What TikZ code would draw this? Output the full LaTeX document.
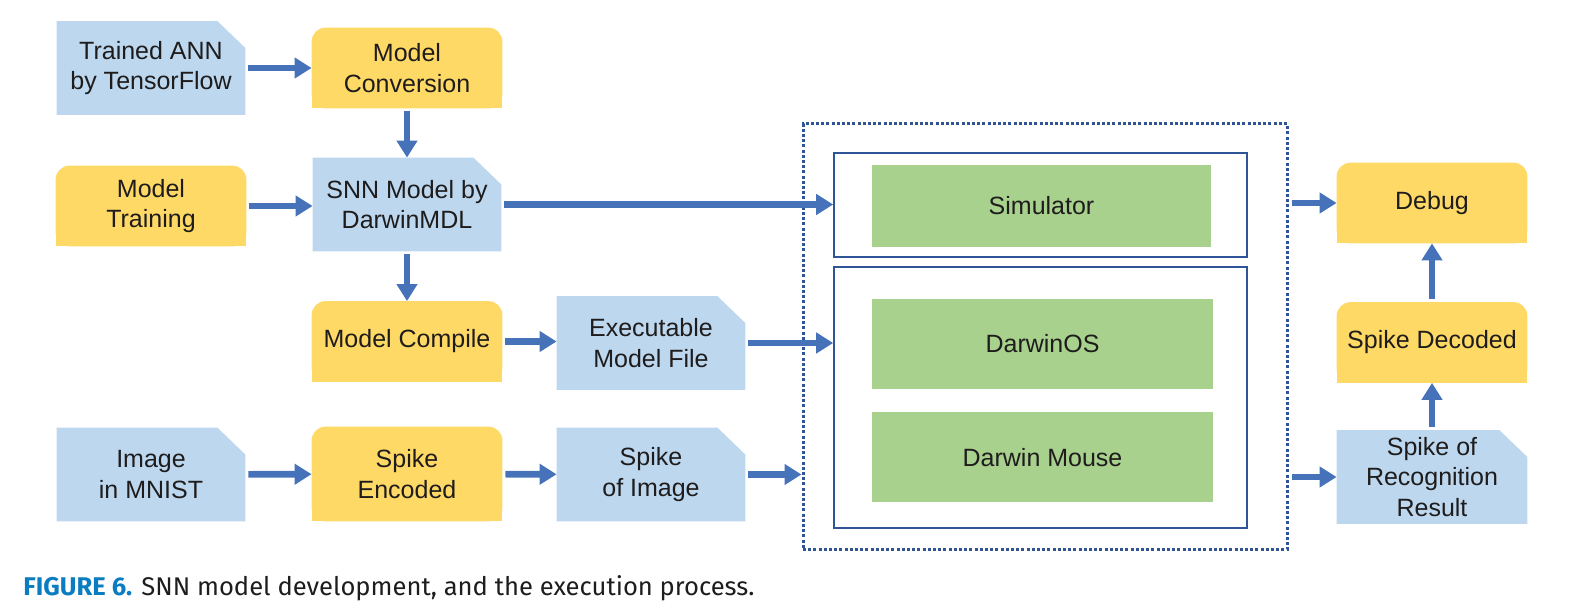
\documentclass[tikz,border=0pt]{standalone}
\usepackage{fontspec}
\setmainfont{Liberation Sans}
\newfontfamily\capfont{Fira Sans}
\usetikzlibrary{arrows.meta,backgrounds}
\definecolor{docblue}{RGB}{189,215,238}
\definecolor{stepyel}{RGB}{255,217,102}
\definecolor{hwgreen}{RGB}{169,209,142}
\definecolor{arrblue}{RGB}{70,114,186}
\definecolor{frameblue}{RGB}{47,85,151}
\definecolor{txt}{RGB}{30,28,28}
\definecolor{capblue}{RGB}{10,125,193}
\tikzset{
box/.style={text=txt,align=center,font=\fontsize{12.5}{15.3}\selectfont,inner sep=0pt},
doc/.style={box,minimum width=94pt,minimum height=46.5pt},
task/.style={box,minimum width=95pt,minimum height=40pt},
hw/.style={box,fill=hwgreen,minimum width=170.5pt,minimum height=45pt},
unit/.style={draw=frameblue,line width=0.8pt,minimum width=206.5pt},
flow/.style={draw=arrblue,line width=3.3pt,-{Triangle[length=8.5pt,width=10pt]},shorten <=1.5pt}
}
\begin{document}
\begin{tikzpicture}[x=0.5pt,y=-0.5pt]
\useasboundingbox (0,0) rectangle (1584,613);
\node[doc]
(ann) at (151,68) {Trained ANN\\by TensorFlow};
\node[task]
(conv) at (407,68) {Model\\Conversion};
\node[task]
(train) at (151,206) {Model\\Training};
\node[doc]
(snn) at (407,204.5) {SNN Model by\\DarwinMDL};
\node[task]
(compile) at (407,341.5) {Model Compile};
\node[doc]
(exe) at (651,343) {Executable\\Model File};
\node[doc]
(mnist) at (151,474.5) {Image\\in MNIST};
\node[task,minimum height=47pt]
(enc) at (407,474) {Spike\\Encoded};
\node[doc]
(spk) at (651,474.5) {Spike\\of Image};
\node[draw=frameblue,line width=1.5pt,dash pattern=on 1.5pt off 1.1pt,minimum width=242pt,minimum height=213pt]
(frame) at (1045,337) {};
\node[unit,minimum height=52pt]
(simbox) at (1040.5,205) {};
\node[unit,minimum height=130.5pt]
(chipbox) at (1040.5,397.5) {};
\node[hw,minimum width=169.5pt,minimum height=41pt]
(sim) at (1041.5,206) {Simulator};
\node[hw]
(os) at (1042.5,344) {DarwinOS};
\node[hw]
(mouse) at (1042.5,457.5) {Darwin Mouse};
\node[task]
(debug) at (1432,203) {Debug};
\node[task]
(dec) at (1432,342.5) {Spike Decoded};
\node[doc,minimum width=95pt]
(res) at (1432,477) {Spike of\\Recognition\\Result};
\node[anchor=base west,inner sep=0pt,text=txt,font=\capfont\fontsize{12.8}{14}\selectfont]
(cap) at (23,596) {\textcolor{capblue}{\bfseries FIGURE 6.} SNN model development, and the execution process.};
\begin{scope}[on background layer]
\foreach \n in {ann,snn,exe,mnist,spk,res}
\fill[docblue] (\n.south west) -- (\n.north west) -- ([xshift=-14pt]\n.north east) -- ([yshift=-13.5pt]\n.north east) -- (\n.south east) -- cycle;
\foreach \n in {conv,train,compile,enc,debug,dec}
{\fill[stepyel,rounded corners=7pt] (\n.south west) rectangle (\n.north east);
\fill[stepyel] (\n.south west) rectangle (\n.east);}
\end{scope}
\draw[flow](ann) -- (conv);
\draw[flow](conv) -- (snn);
\draw[flow](train) -- (train -| snn.west);
\draw[flow](snn) -- (snn -| simbox.west);
\draw[flow](snn) -- (compile);
\draw[flow](compile) -- (compile -| exe.west);
\draw[flow](exe) -- (exe -| chipbox.west);
\draw[flow](mnist) -- (enc);
\draw[flow](enc) -- (spk);
\draw[flow](spk) -- (spk -| frame.west);
\draw[flow](frame.east |- debug) -- (debug);
\draw[flow](frame.east |- res) -- (res);
\draw[flow](res) -- (dec);
\draw[flow](dec) -- (debug);
\end{tikzpicture}
\end{document}
